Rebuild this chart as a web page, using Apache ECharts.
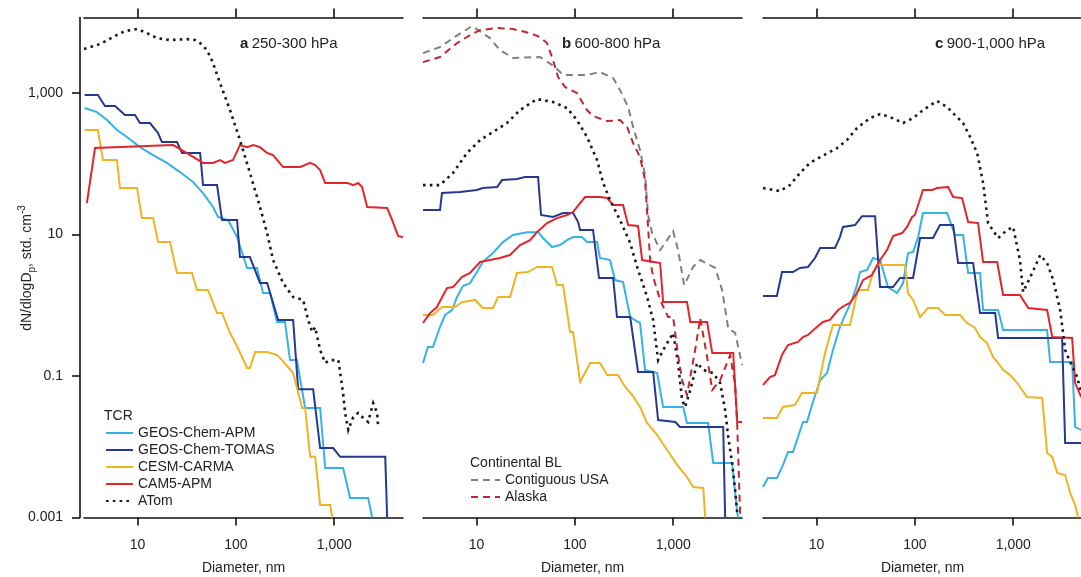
<!DOCTYPE html>
<html><head><meta charset="utf-8">
<script src="https://cdn.jsdelivr.net/npm/echarts@6/dist/echarts.min.js"></script>
<style>html,body{margin:0;padding:0;background:#fff}#c{width:1081px;height:577px}</style>
</head><body><div id="c"></div>
<script>
// ---------- tick labels / text ----------
const xTicks = [10, 100, 1000];
const xTickLabels = ['10', '100', '1,000'];
const yTicks = [0.001, 0.1, 10, 1000];
const yTickLabels = ['0.001', '0.1', '10', '1,000'];
const xRange = [2.86, 5000];
const yRange = [0.001, 11700];
const xName = 'Diameter, nm';
const panelLetters = ['a', 'b', 'c'];
const panelLevels = ['250-300 hPa', '600-800 hPa', '900-1,000 hPa'];
const legendModels = ['GEOS-Chem-APM', 'GEOS-Chem-TOMAS', 'CESM-CARMA', 'CAM5-APM', 'ATom'];
const legendBL = ['Contiguous USA', 'Alaska'];

// ---------- data: [diameter nm, dN/dlogDp] ----------
// panel a: 250-300 hPa
const aApm = [[2.9,614],[3.87,538],[4.9,415],[6.18,300],[7.82,239],[10.6,172],[14.4,133],[19.9,103],[27,76.4],[36.7,55.2],[46.4,38.6],[58.6,24.5],[65.9,17.7],[83.3,16],[103,9.2],[130,3.37],[164,3.37],[189,1.49],[223,1.49],[262,0.58],[316,0.58],[355,0.168],[417,0.168],[506,0.0353],[719,0.0353],[809,0.005],[1230,0.005],[1450,0.00189],[2210,0.00189],[2430,0.001]];
const aTomas = [[2.9,940],[3.96,940],[4.67,655],[5.91,655],[7.46,489],[9.43,489],[10.6,377],[13.4,377],[16.2,272],[17.7,203],[25.2,203],[28.4,142],[43.3,142],[46.4,50],[64.4,50],[72.4,16],[103,16],[110,4.81],[139,4.81],[176,2.06],[208,2.06],[269,0.62],[382,0.62],[430,0.065],[610,0.065],[719,0.0096],[975,0.0096],[1150,0.0072],[3300,0.0072],[3450,0.001]];
const aCarma = [[2.9,300],[3.96,300],[4.46,113],[6.18,113],[6.64,45.4],[9.9,45.4],[11.1,17.1],[14.4,17.1],[16.2,7.83],[21.4,7.83],[25.2,2.86],[35.8,2.86],[40.3,1.64],[52.1,1.64],[64.4,0.776],[72.4,0.776],[87.3,0.405],[105,0.249],[130,0.13],[139,0.13],[157,0.218],[208,0.218],[262,0.198],[295,0.168],[382,0.11],[472,0.0353],[506,0.0353],[569,0.0072],[640,0.0072],[719,0.0015],[910,0.0015],[955,0.001]];
const aCam5 = [[3.06,27.9],[3.7,167],[23,184],[31.9,142],[46.4,103],[58.6,103],[69,113],[77.6,103],[93.6,113],[110,184],[130,172],[150,184],[176,172],[208,142],[239,133],[302,90],[450,90],[569,103],[640,96],[719,81.6],[809,53.5],[1370,53.5],[1560,50],[1750,53.5],[1920,46.9],[2160,24.5],[3450,23.7],[3880,16],[4470,9.5],[5000,9.2]];
const aAtom = [[2.86,4190],[4.15,4930],[5.91,6400],[7.46,7520],[9.9,8030],[12.5,7050],[15.8,5980],[21.4,5610],[31.9,5790],[38.5,5610],[43.3,5090],[50.9,4050],[58.6,2660],[69,1380],[87.3,575],[110,217],[139,74],[168,30.7],[208,10.5],[239,4.36],[302,2.06],[382,1.31],[483,1.19],[543,0.62],[597,0.42],[640,0.49],[719,0.233],[809,0.153],[910,0.168],[1100,0.168],[1230,0.0575],[1290,0.03],[1390,0.0173],[1560,0.0263],[1750,0.03],[1970,0.0255],[2210,0.0224],[2490,0.0415],[2730,0.03],[2800,0.0184]];

// panel b: 600-800 hPa
const bApm = [[2.86,0.153],[3.21,0.257],[3.61,0.257],[4.26,0.493],[4.79,0.728],[5.64,0.857],[6.34,1.31],[7.29,1.87],[8.59,2.06],[10.1,2.95],[11.6,4.09],[14.7,5.48],[18.6,7.83],[23.5,9.84],[32.7,10.8],[42.3,10.8],[47.5,8.93],[58.6,6.65],[70.6,7.11],[83.3,8.35],[95.9,9.22],[118,9.22],[133,7.83],[168,7.83],[180,4.66],[228,4.36],[256,2.27],[309,2.13],[365,0.682],[460,0.561],[517,0.122],[686,0.11],[789,0.0365],[1260,0.0365],[1380,0.0217],[2260,0.0217],[2550,0.0059],[3970,0.0059],[4470,0.00116],[4570,0.001]];
const bTomas = [[2.86,22.2],[4.26,22.2],[4.46,38.6],[6.79,39.9],[10.1,42.6],[11.6,45.4],[16.2,46.9],[18.2,58.9],[25.8,60.8],[31.1,65],[42.3,65],[45.3,18.9],[60,17.7],[75.9,20.1],[95.9,20.1],[108,15],[113,11.6],[153,11.6],[176,2.43],[245,2.43],[268,0.682],[365,0.682],[439,0.114],[625,0.114],[702,0.0239],[1050,0.0224],[1170,0.019],[3220,0.019],[3370,0.001]];
const bCarma = [[2.86,0.728],[3.61,0.728],[4.46,0.944],[6.04,0.944],[7.11,1.11],[9.66,1.19],[11.6,0.914],[14.7,0.914],[16.6,1.31],[21.9,1.31],[25.8,2.86],[33.4,2.95],[41.2,3.48],[58.6,3.48],[65.9,1.93],[75.9,1.93],[89.4,0.419],[95.9,0.419],[113,0.0822],[143,0.153],[180,0.153],[213,0.103],[275,0.103],[324,0.07],[382,0.054],[460,0.0365],[542,0.0217],[686,0.0147],[867,0.009],[1100,0.0055],[1380,0.00373],[1590,0.0027],[2020,0.00261],[2110,0.001]];
const bCam5 = [[2.86,0.561],[3.37,0.776],[3.96,0.944],[5.01,1.75],[5.77,1.81],[7.11,2.51],[8.59,2.86],[10.9,4.09],[13.7,4.36],[17.3,4.66],[21.9,5.13],[27.7,7.11],[35,8.35],[41.2,10.8],[52.1,14.5],[65.9,17.1],[83.3,18.9],[95.9,20.8],[113,27.9],[127,33.9],[180,33.9],[213,32.8],[245,26.1],[309,26.1],[348,13.6],[439,13.2],[483,4.36],[736,3.95],[789,1.11],[1380,1.11],[1490,0.58],[2210,0.58],[2490,0.211],[4070,0.211],[4470,0.0224],[5020,0.0224]];
const bAtom = [[2.86,50],[4.26,50],[5.77,74],[8.0,142],[10.9,217],[14.7,281],[20.4,377],[27.7,575],[41.2,822],[60,746],[83.3,614],[105,415],[133,239],[168,113],[194,53.5],[228,30.7],[288,16],[365,7.58],[430,3.48],[542,1.31],[625,0.62],[702,0.168],[789,0.233],[997,0.405],[1120,0.153],[1230,0.0458],[1320,0.0365],[1490,0.0634],[1750,0.153],[2020,0.122],[2550,0.11],[3000,0.0796],[3370,0.033],[3620,0.0137],[3970,0.0059],[4260,0.00245],[4470,0.00116]];
const bUsa = [[2.86,3670],[4.26,4470],[5.77,5980],[9.0,8850],[13.7,5980],[17.3,4050],[23.5,3130],[44.3,3230],[63,2330],[75.9,1800],[133,1800],[180,1980],[245,1630],[288,1100],[348,634],[391,330],[460,156],[517,69.3],[555,18.9],[610,10.5],[736,6.03],[997,11.2],[1120,6.03],[1290,1.93],[1590,3.48],[1880,4.36],[2670,3.37],[3140,1.64],[3620,0.477],[4260,0.405],[5020,0.143]];
const bAlaska = [[2.86,2740],[4.26,3230],[6.34,5090],[8.59,6610],[10.9,7770],[16.2,8290],[23.5,8030],[35,7050],[44.3,6190],[52.1,5090],[60,2930],[67.5,1680],[79.4,1220],[105,1000],[133,575],[153,473],[213,402],[288,415],[340,330],[391,196],[460,124],[517,58.9],[555,12.8],[582,4.36],[625,2.51],[736,1.19],[887,0.682],[997,0.682],[1120,0.198],[1230,0.0877],[1380,0.0538],[1670,0.233],[1880,0.66],[2210,0.186],[2490,0.0634],[3000,0.0877],[3790,0.198],[4260,0.0746],[4470,0.0203],[4800,0.001]];

// panel c: 900-1,000 hPa
const cApm = [[2.86,0.0027],[3.21,0.00361],[3.96,0.00361],[4.56,0.0055],[5.13,0.00843],[5.77,0.00843],[6.49,0.0137],[7.29,0.0224],[8.0,0.0224],[9.0,0.0389],[10.1,0.0634],[10.9,0.0878],[12.8,0.11],[14.7,0.233],[17.3,0.493],[19.5,0.728],[23,1.19],[25.8,1.93],[27.7,2.95],[32.7,3.15],[37.6,4.66],[44.3,4.36],[53.3,1.81],[65.9,1.49],[75.9,2.06],[85.3,5.48],[95.9,5.66],[108,9.22],[121,20.1],[213,20.1],[256,9.84],[309,9.84],[348,2.86],[460,2.86],[494,0.857],[702,0.857],[789,0.447],[2210,0.447],[2370,0.158],[3970,0.158],[4260,0.019],[4910,0.0173]];
const cTomas = [[2.86,1.35],[3.96,1.35],[4.46,2.95],[5.77,2.95],[6.79,3.37],[8.2,3.48],[9.66,4.66],[10.9,6.44],[15.4,6.44],[17.3,9.22],[18.6,12.8],[24.7,13.6],[29,18.2],[39.4,18.2],[44.3,1.81],[60,1.81],[70.6,2.43],[95.9,2.43],[113,8.93],[153,8.93],[180,13.6],[245,13.6],[275,3.95],[391,3.95],[460,0.776],[655,0.776],[702,0.344],[3140,0.344],[3370,0.0113],[4910,0.0113]];
const cCarma = [[2.86,0.0255],[3.96,0.0255],[4.56,0.0365],[6.04,0.0389],[7.11,0.0575],[10.1,0.0575],[12.2,0.211],[14.7,0.526],[21.9,0.526],[24.7,1.11],[26.4,1.64],[33.4,1.64],[37.6,2.95],[41.2,3.71],[79.4,3.71],[85.3,1.49],[95.9,1.19],[113,0.682],[136,0.914],[172,0.914],[203,0.728],[288,0.728],[340,0.561],[409,0.477],[460,0.356],[542,0.292],[625,0.185],[702,0.153],[789,0.122],[929,0.103],[1100,0.0796],[1230,0.0634],[1380,0.0505],[1970,0.0489],[2210,0.00817],[2490,0.0072],[2800,0.00426],[3370,0.00398],[3790,0.00222],[4260,0.0015],[4570,0.001]];
const cCam5 = [[2.86,0.0746],[3.37,0.0968],[3.78,0.103],[4.46,0.198],[5.13,0.274],[6.49,0.303],[7.29,0.356],[8.2,0.38],[10.1,0.493],[11.6,0.58],[13.7,0.62],[16.6,0.857],[19.5,1.0],[21.9,1.08],[25.8,1.49],[29.7,2.27],[36.7,2.68],[44.3,4.36],[52.1,6.03],[60,9.52],[74.1,10.5],[83.3,12.8],[93.7,17.7],[100,18.9],[121,42.6],[150,42.6],[168,45.4],[218,46.9],[245,33.9],[302,32.8],[348,15],[439,14.5],[494,4.09],[686,4.09],[789,1.4],[1170,1.4],[1420,0.914],[2210,0.857],[2490,0.356],[3970,0.344],[4260,0.0796],[4910,0.0505]];
const cAtom = [[2.86,45.4],[4.26,41.2],[5.37,50],[6.79,74],[8.59,103],[10.9,124],[16.2,167],[20.4,217],[25.8,320],[35,443],[44.3,505],[56,458],[75.9,377],[95.9,443],[121,575],[168,771],[213,634],[256,489],[309,377],[365,239],[430,142],[494,53.5],[555,14.5],[702,8.93],[867,11.6],[997,12.8],[1170,4.36],[1260,1.54],[1560,2.86],[1880,5.13],[2210,3.95],[2550,2.27],[3000,0.857],[3370,0.233],[3790,0.158],[4470,0.0968],[4910,0.0575]];

// ---------- styles ----------
const FONT = '"Liberation Sans", Arial, Helvetica, sans-serif';
const TXT = '#222';
const AX = '#111';
const styles = {
  'GEOS-Chem-APM':   {color: '#36b2e6', width: 2, type: 'solid'},
  'GEOS-Chem-TOMAS': {color: '#24398f', width: 2, type: 'solid'},
  'CESM-CARMA':      {color: '#f0b323', width: 2, type: 'solid'},
  'CAM5-APM':        {color: '#e2262b', width: 2, type: 'solid'},
  'ATom':            {color: '#1a1a1a', width: 2.6, type: [2.6, 4.2]},
  'Contiguous USA':  {color: '#808080', width: 2, type: [7, 5]},
  'Alaska':          {color: '#c2272d', width: 2, type: [7, 5]}
};

const panels = [
  [['GEOS-Chem-APM', aApm], ['GEOS-Chem-TOMAS', aTomas], ['CESM-CARMA', aCarma], ['CAM5-APM', aCam5], ['ATom', aAtom]],
  [['GEOS-Chem-APM', bApm], ['GEOS-Chem-TOMAS', bTomas], ['CESM-CARMA', bCarma], ['CAM5-APM', bCam5], ['ATom', bAtom], ['Contiguous USA', bUsa], ['Alaska', bAlaska]],
  [['GEOS-Chem-APM', cApm], ['GEOS-Chem-TOMAS', cTomas], ['CESM-CARMA', cCarma], ['CAM5-APM', cCam5], ['ATom', cAtom]]
];
const gridLefts = [84, 423, 763];
const titleLefts = [240, 562, 935];

function labeler(vals, labels) {
  return function (v) {
    for (let i = 0; i < vals.length; i++) {
      if (Math.abs(Math.log10(vals[i]) - Math.log10(v)) < 1e-6) return labels[i];
    }
    return '';
  };
}

const grid = [], xAxis = [], yAxis = [], series = [], graphic = [];
gridLefts.forEach(function (left, gi) {
  grid.push({left: left, top: 17.5, width: 319, height: 500, containLabel: false, outerBoundsMode: 'none'});
  const axisLine = {show: true, onZero: false, lineStyle: {color: AX, width: 1.6}};
  xAxis.push({
    type: 'log', gridIndex: gi, min: xRange[0], max: xRange[1], position: 'bottom',
    axisLine: axisLine,
    axisTick: {show: true, customValues: xTicks, length: 8, lineStyle: {color: AX, width: 1.6}},
    axisLabel: {show: true, customValues: xTicks, formatter: labeler(xTicks, xTickLabels), fontSize: 14, color: TXT, fontFamily: FONT, margin: 21},
    splitLine: {show: false}, minorTick: {show: false},
    name: xName, nameLocation: 'middle', nameGap: 44,
    nameTextStyle: {fontSize: 14, color: TXT, fontFamily: FONT}
  });
  xAxis.push({
    type: 'log', gridIndex: gi, min: xRange[0], max: xRange[1], position: 'top',
    axisLine: axisLine,
    axisTick: {show: true, customValues: xTicks, length: 9, lineStyle: {color: AX, width: 1.6}},
    axisLabel: {show: false}, splitLine: {show: false}
  });
  const yBase = {type: 'log', gridIndex: gi, min: yRange[0], max: yRange[1], splitLine: {show: false}};
  if (gi === 0) {
    yAxis.push(Object.assign(yBase, {
      position: 'left', offset: 4,
      axisLine: {show: true, onZero: false, lineStyle: {color: AX, width: 1.6}},
      axisTick: {show: true, customValues: yTicks, length: 8, lineStyle: {color: AX, width: 1.6}},
      axisLabel: {show: true, customValues: yTicks, formatter: labeler(yTicks, yTickLabels), fontSize: 14, color: TXT, fontFamily: FONT, margin: 17}
    }));
  } else {
    yAxis.push(Object.assign(yBase, {show: false}));
  }
  panels[gi].forEach(function (p) {
    const st = styles[p[0]];
    series.push({
      type: 'line', name: p[0], data: p[1], xAxisIndex: gi * 2, yAxisIndex: gi,
      symbol: 'none', showSymbol: false, smooth: false, clip: true,
      color: st.color,
      lineStyle: {color: st.color, width: st.width, type: st.type, cap: 'butt', join: 'miter'},
      emphasis: {disabled: true}, animation: false
    });
  });
  graphic.push({
    type: 'text', left: titleLefts[gi], top: 36,
    style: {
      text: '{b|' + panelLetters[gi] + '} {n|' + panelLevels[gi] + '}',
      rich: {
        b: {fontSize: 15, fontWeight: 'bold', fill: TXT, fontFamily: FONT},
        n: {fontSize: 15, fill: TXT, fontFamily: FONT}
      }
    }
  });
});

graphic.push({
  type: 'text', x: 27, y: 268, rotation: Math.PI / 2,
  style: {
    text: '{m|dN/dlogD}{s|p}{m|, std. cm}{u|-3}',
    align: 'center', verticalAlign: 'middle',
    rich: {
      m: {fontSize: 14, fill: TXT, fontFamily: FONT, lineHeight: 20, verticalAlign: 'middle'},
      s: {fontSize: 10, fill: TXT, fontFamily: FONT, lineHeight: 20, verticalAlign: 'bottom'},
      u: {fontSize: 10, fill: TXT, fontFamily: FONT, lineHeight: 20, verticalAlign: 'top'}
    }
  }
});
graphic.push({type: 'text', left: 104, top: 409, style: {text: 'TCR', fontSize: 14, fill: TXT, fontFamily: FONT}});
graphic.push({type: 'text', left: 470, top: 456, style: {text: 'Continental BL', fontSize: 14, fill: TXT, fontFamily: FONT}});

const legendText = {fontSize: 14, lineHeight: 14, color: TXT, fontFamily: FONT};
const legendItemStyle = {opacity: 0, color: 'rgba(0,0,0,0)', borderWidth: 0};
const option = {
  backgroundColor: '#fff',
  animation: false,
  grid: grid, xAxis: xAxis, yAxis: yAxis, series: series, graphic: graphic,
  legend: [
    {data: legendModels, orient: 'vertical', left: 105, top: 426, itemWidth: 27, itemHeight: 14, itemGap: 3,
     itemStyle: legendItemStyle, lineStyle: {inherit: true},
     textStyle: legendText, selectedMode: false, padding: 0},
    {data: legendBL, orient: 'vertical', left: 470, top: 473, itemWidth: 29, itemHeight: 14, itemGap: 3,
     itemStyle: legendItemStyle, lineStyle: {inherit: true},
     textStyle: legendText, selectedMode: false, padding: 0}
  ]
};
const chart = echarts.init(document.getElementById('c'), null, {renderer: 'canvas'});
chart.setOption(option);
</script></body></html>
